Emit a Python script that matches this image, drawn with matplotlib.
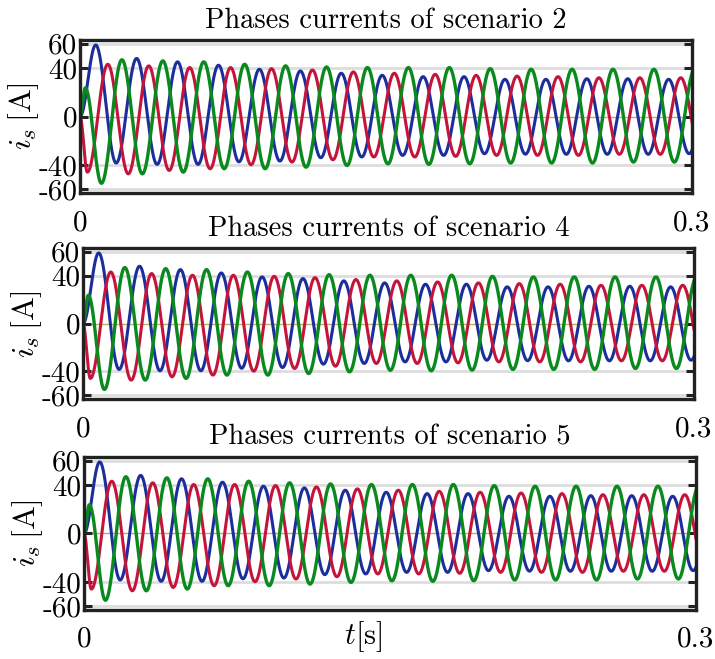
import numpy as np
import matplotlib
matplotlib.use("Agg")
import matplotlib.pyplot as plt

plt.rcParams['font.family'] = 'cmr10'
plt.rcParams['mathtext.fontset'] = 'cm'
plt.rcParams['axes.unicode_minus'] = False

# scenarios shown (the three runs look the same at this scale)
scenarios = [2, 4, 5]

# current extrema [A], one every half period
half_period = 0.01003
t_end = 0.3

blue_t0 = 0.0077
blue_ext = [58.9, -38.3, 47.8, -39.4, 45.0, -39.4, 42.2, -37.3, 38.9, -36.7,
            37.5, -33.9, 35.6, -33.3, 33.9, -32.0, 32.8, -32.0, 32.8, -30.6,
            30.6, -31.0, 30.6, -31.1, 31.1, -31.1, 31.1, -31.1, 30.6, -30.6, 30.6]

red_t0 = 0.0036
red_ext = [-45.8, 43.0, -47.2, 41.7, -44.4, 40.3, -43.0, 40.3, -39.7, 39.4,
           -37.5, 38.3, -35.6, 36.7, -33.3, 35.6, -33.3, 34.7, -32.8, 33.9,
           -32.0, 33.3, -32.0, 32.8, -32.0, 31.9, -31.1, 31.9, -31.1, 31.9, -31.1]

# green has a small bump right after start-up before the first trough
green_bump = (0.0026, 23.6)
green_t0 = 0.0105
green_ext = [-55.0, 46.7, -47.2, 45.8, -45.8, 45.0, -43.0, 43.0, -43.0, 41.7,
             -41.7, 40.8, -40.3, 40.3, -39.0, 40.3, -39.4, 40.3, -38.9, 39.4,
             -38.3, 38.9, -38.3, 38.9, -38.3, 38.9, -37.5, 38.9, -37.5, 38.9]

ytick_vals = [60, 40, 0, -40, -60]
ytick_labels = ['60', '40', '0', '-40', '-60']


def knots(t0, ext, pre=()):
    kt = [0.0] + [p[0] for p in pre] + [t0 + k * half_period for k in range(len(ext))]
    kv = [0.0] + [p[1] for p in pre] + list(ext)
    return np.array(kt), np.array(kv)


def through_extrema(t, kt, kv):
    # half-cosine between consecutive extrema
    i = np.clip(np.searchsorted(kt, t, side='right') - 1, 0, len(kt) - 2)
    f = (t - kt[i]) / (kt[i + 1] - kt[i])
    return kv[i] + (kv[i + 1] - kv[i]) * (1 - np.cos(np.pi * f)) / 2


t = np.linspace(0, t_end, 6000)
i_blue = through_extrema(t, *knots(blue_t0, blue_ext))
i_red = through_extrema(t, *knots(red_t0, red_ext))
i_green = through_extrema(t, *knots(green_t0, green_ext, pre=[green_bump]))

fig = plt.figure(figsize=(7.15, 6.59), dpi=100)

positions = [[0.1119, 0.7071, 0.856, 0.2322],
             [0.1161, 0.3945, 0.8545, 0.2291],
             [0.1175, 0.0744, 0.856, 0.2322]]

for n, (sc, pos) in enumerate(zip(scenarios, positions)):
    ax = fig.add_axes(pos)
    for y in [60, 40, -40, -60]:
        ax.axhline(y, color='#dddddd', lw=2.0, zorder=0)
    ax.axhline(0, color='#b8b060', lw=1.0, zorder=0)
    ax.plot(t, i_blue, color='#1c2d9c', lw=2.2)
    ax.plot(t, i_red, color='#c4143c', lw=2.2)
    ax.plot(t, i_green, color='#0a8a1e', lw=2.4)
    ax.set_xlim(0, t_end)
    ax.set_ylim(-63, 63)
    ax.set_yticks(ytick_vals)
    ax.set_yticklabels(ytick_labels)
    ax.set_xticks([0, t_end])
    ax.set_xticklabels(['0', '0.3'])
    ax.tick_params(axis='y', direction='in', length=6, width=2.2, left=True, right=True,
                   labelsize=21, pad=2, color='#222222')
    ax.tick_params(axis='x', length=0, labelsize=21, pad=12)
    for s in ax.spines.values():
        s.set_linewidth(2.4)
        s.set_color('#222222')
    ax.set_title('Phases currents of scenario %d' % sc, fontsize=20.5, pad=9)
    ax.set_ylabel(r'$i_s\,[\mathrm{A}]$', fontsize=23, labelpad=-2)
    if n == 2:
        ax.set_xlabel(r'$t[\mathrm{s}]$', fontsize=22)
        ax.xaxis.set_label_coords(0.456, -0.06)

fig.savefig('out.png', dpi=100)
